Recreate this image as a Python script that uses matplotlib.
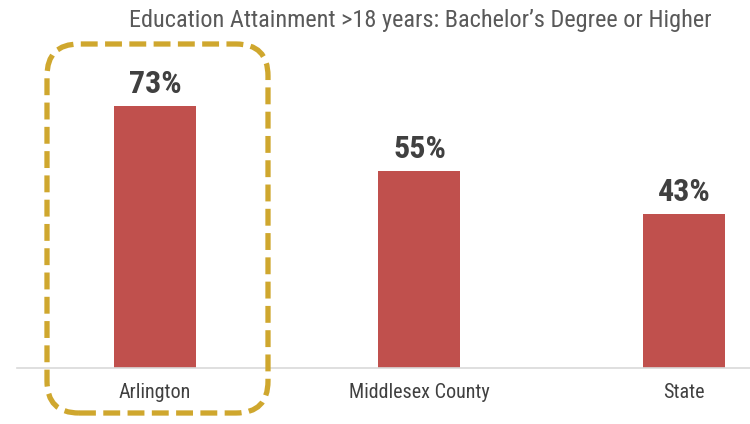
import matplotlib
matplotlib.use("Agg")
import matplotlib.pyplot as plt
from matplotlib import patches
from matplotlib.transforms import IdentityTransform
from matplotlib import font_manager

categories = ["Arlington", "Middlesex County", "State"]
values = [73, 55, 43]
value_labels = ["73%", "55%", "43%"]
title = "Education Attainment >18 years: Bachelor\u2019s Degree or Higher"

names = {f.name for f in font_manager.fontManager.ttflist}
fam = [f for f in ["Roboto Condensed", "Liberation Sans Narrow", "Roboto"] if f in names] + ["DejaVu Sans"]
plt.rcParams['font.family'] = fam

W, H = 750, 424
fig = plt.figure(figsize=(W / 100, H / 100), dpi=100)
ax = fig.add_axes([17 / W, 56 / H, 733 / W, 328 / H])

x = list(range(len(categories)))
ax.bar(x, values, width=0.31, color="#C0504D", zorder=2)
ax.set_xlim(-0.522, 2.25)
ax.set_ylim(0, 91.5)

for xi, v, lab in zip(x, values, value_labels):
    ax.annotate(lab, (xi, v), xytext=(0, 5), textcoords="offset points",
                ha="center", va="bottom", fontsize=23, fontweight="bold", color="#404040")

ax.set_xticks(x)
ax.set_xticklabels(categories, fontsize=14.5, color="#404040")
ax.tick_params(axis="x", length=0, pad=11)
ax.set_yticks([])
for s in ["top", "right", "left"]:
    ax.spines[s].set_visible(False)
ax.spines["bottom"].set_color("#D9D9D9")
ax.spines["bottom"].set_linewidth(1.2)

fig.text(420 / W, 1 - 20 / H, title, ha="center", va="center", fontsize=17.5, color="#595959")

# highlight box (annotation, in pixel coordinates)
x0, x1 = 47, 268
ytop, ybot = H - 44, H - 413
box = patches.FancyBboxPatch((x0, ybot), x1 - x0, ytop - ybot,
                             boxstyle="round,pad=0,rounding_size=32",
                             transform=IdentityTransform(), facecolor="none",
                             edgecolor="#CFA72E", linewidth=3.8,
                             linestyle=(0, (3.2, 1.4)), zorder=5)
fig.patches.append(box)

fig.savefig("out.png", dpi=100)
